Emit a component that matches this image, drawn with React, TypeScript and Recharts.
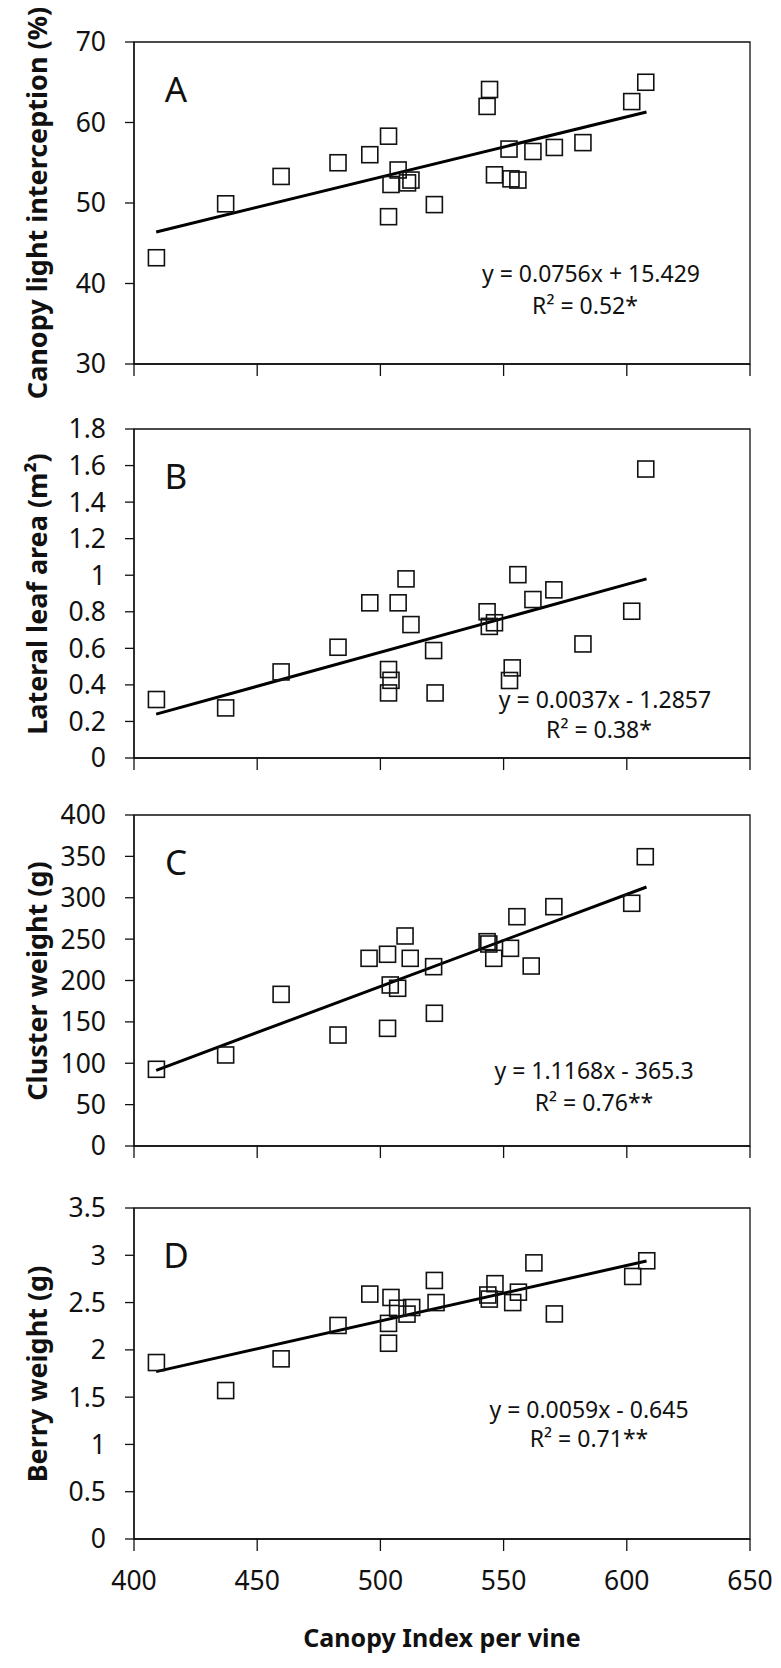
import React from "react";
import { ScatterChart, Scatter, XAxis, YAxis, ReferenceArea } from "recharts";

// shared x axis: canopy index per vine
const canopyTicks = [400, 450, 500, 550, 600, 650];
const trendCanopy = [409, 608];

// A - canopy light interception (%)
const canopyA = [409.1, 437.2, 459.7, 482.8, 495.7, 503.3, 503.3, 504.3, 507.2, 511.0, 512.4, 521.9, 543.3, 544.3, 546.3, 552.2, 553.0, 555.8, 561.9, 570.6, 582.2, 602.0, 607.7];
const lightA = [43.2, 49.9, 53.3, 55.0, 56.0, 58.3, 48.3, 52.3, 54.1, 52.5, 52.85, 49.8, 62.0, 64.1, 53.5, 56.7, 53.0, 52.85, 56.4, 56.9, 57.5, 62.6, 65.0];
const trendA = [46.4, 61.3];
const ticksA = [30, 40, 50, 60, 70];

// B - lateral leaf area (m2)
const canopyB = [409.1, 437.2, 459.7, 482.8, 495.7, 503.3, 504.3, 503.3, 507.2, 510.4, 512.4, 521.6, 522.2, 543.3, 544.2, 546.3, 552.4, 553.5, 555.8, 561.9, 570.4, 582.2, 602.0, 607.7];
const leafB = [0.32, 0.274, 0.471, 0.606, 0.849, 0.484, 0.425, 0.356, 0.849, 0.98, 0.73, 0.588, 0.356, 0.8, 0.72, 0.74, 0.424, 0.493, 1.003, 0.867, 0.92, 0.624, 0.803, 1.581];
const trendB = [0.24, 0.98];
const ticksB = [0, 0.2, 0.4, 0.6, 0.8, 1, 1.2, 1.4, 1.6, 1.8];

// C - cluster weight (g)
const canopyC = [409.1, 437.2, 459.7, 482.8, 495.4, 502.9, 510.0, 512.1, 521.6, 504.0, 507.0, 521.9, 502.9, 543.3, 544.0, 546.0, 552.8, 555.4, 561.2, 570.4, 602.0, 607.5];
const clusterC = [92.7, 110, 183.3, 134.1, 226.8, 231.7, 253.8, 226.8, 216.7, 194.6, 190.6, 160.4, 142.2, 246.9, 244.1, 226.8, 238.9, 277.1, 217.5, 289.2, 293.3, 349.6];
const trendC = [91.5, 313];
const ticksC = [0, 50, 100, 150, 200, 250, 300, 350, 400];

// D - berry weight (g)
const canopyD = [409.1, 437.2, 459.7, 482.8, 495.7, 504.3, 507.0, 512.7, 510.8, 503.3, 503.3, 521.9, 522.6, 543.6, 544.2, 546.5, 553.7, 556.0, 562.3, 570.6, 602.4, 608.1];
const berryD = [1.866, 1.57, 1.905, 2.258, 2.59, 2.554, 2.44, 2.448, 2.378, 2.28, 2.07, 2.734, 2.5, 2.58, 2.537, 2.7, 2.5, 2.61, 2.92, 2.38, 2.776, 2.942];
const trendD = [1.77, 2.94];
const ticksD = [0, 0.5, 1, 1.5, 2, 2.5, 3, 3.5];

const FONT = "'Noto Sans', sans-serif";
const INK = "#111";

const toPoints = (xs: number[], ys: number[]) => xs.map((x, i) => ({ x, y: ys[i] }));

function Square(props: any) {
  const { cx, cy } = props;
  if (cx == null || cy == null) return <g />;
  return (
    <rect x={cx - 8} y={cy - 8} width={16} height={16} fill="none" stroke={INK} strokeWidth={1.6} />
  );
}

type PanelProps = {
  plotTop: number;
  plotBottom: number;
  yTicks: number[];
  xs: number[];
  ys: number[];
  trend: number[];
  letter: string;
  yTitle: string;
  eq: string;
  r2: string;
  eqPos: [number, number];
  r2Pos: [number, number];
  showXLabels?: boolean;
};

const textBox = (x: number, y: number, font: string): React.CSSProperties => ({
  position: "absolute",
  left: x,
  top: y,
  transform: "translate(-50%, -50%)",
  whiteSpace: "nowrap",
  font,
  lineHeight: 1,
  color: INK,
});

function Panel(p: PanelProps) {
  const padTop = 20;
  const axisH = p.showXLabels ? 60 : 30;
  const plotH = p.plotBottom - p.plotTop;
  const yDomain: [number, number] = [p.yTicks[0], p.yTicks[p.yTicks.length - 1]];
  const tickStyle = { fill: INK, fontSize: 26.5, fontFamily: FONT };

  return (
    <>
      <div style={{ position: "absolute", left: 0, top: p.plotTop - padTop }}>
        <ScatterChart
          width={781}
          height={padTop + plotH + axisH}
          margin={{ top: padTop, right: 31, bottom: 0, left: 0 }}
        >
          <XAxis
            type="number"
            dataKey="x"
            domain={[400, 650]}
            ticks={canopyTicks}
            interval={0}
            height={axisH}
            tickSize={12}
            tickMargin={20}
            tick={tickStyle}
            tickFormatter={(v) => (p.showXLabels ? String(v) : "")}
            axisLine={{ stroke: INK, strokeWidth: 1.3 }}
            tickLine={{ stroke: INK, strokeWidth: 1.3 }}
          />
          <YAxis
            type="number"
            dataKey="y"
            domain={yDomain}
            ticks={p.yTicks}
            interval={0}
            width={134}
            tickSize={9}
            tickMargin={19}
            tick={tickStyle}
            axisLine={{ stroke: INK, strokeWidth: 1.3 }}
            tickLine={{ stroke: INK, strokeWidth: 1.3 }}
          />
          <ReferenceArea
            x1={400}
            x2={650}
            y1={yDomain[0]}
            y2={yDomain[1]}
            fill="none"
            stroke={INK}
            strokeWidth={1.3}
          />
          <Scatter
            data={toPoints(trendCanopy, p.trend)}
            line={{ stroke: "#000", strokeWidth: 3 }}
            shape={() => <g />}
            isAnimationActive={false}
          />
          <Scatter data={toPoints(p.xs, p.ys)} shape={<Square />} isAnimationActive={false} />
        </ScatterChart>
      </div>
      <div
        style={{
          ...textBox(36, (p.plotTop + p.plotBottom) / 2, `bold 27px ${FONT}`),
          transform: "translate(-50%, -50%) rotate(-90deg)",
        }}
      >
        {p.yTitle}
      </div>
      <div style={textBox(176, p.plotTop + 46, `35px ${FONT}`)}>{p.letter}</div>
      <div style={textBox(p.eqPos[0], p.eqPos[1], `23px ${FONT}`)}>{p.eq}</div>
      <div style={textBox(p.r2Pos[0], p.r2Pos[1], `23px ${FONT}`)}>{p.r2}</div>
    </>
  );
}

export default function App() {
  return (
    <div
      style={{
        position: "absolute",
        left: 0,
        top: 0,
        width: 781,
        height: 1668,
        background: "#fff",
        fontFamily: FONT,
      }}
    >
      <Panel
        plotTop={42}
        plotBottom={364}
        yTicks={ticksA}
        xs={canopyA}
        ys={lightA}
        trend={trendA}
        letter="A"
        yTitle="Canopy light interception (%)"
        eq="y = 0.0756x + 15.429"
        r2="R² = 0.52*"
        eqPos={[591, 273]}
        r2Pos={[585, 305]}
      />
      <Panel
        plotTop={429}
        plotBottom={758}
        yTicks={ticksB}
        xs={canopyB}
        ys={leafB}
        trend={trendB}
        letter="B"
        yTitle="Lateral leaf area (m²)"
        eq="y = 0.0037x - 1.2857"
        r2="R² = 0.38*"
        eqPos={[605, 699]}
        r2Pos={[599, 729]}
      />
      <Panel
        plotTop={815}
        plotBottom={1146}
        yTicks={ticksC}
        xs={canopyC}
        ys={clusterC}
        trend={trendC}
        letter="C"
        yTitle="Cluster weight (g)"
        eq="y = 1.1168x - 365.3"
        r2="R² = 0.76**"
        eqPos={[594, 1070]}
        r2Pos={[594, 1102]}
      />
      <Panel
        plotTop={1208}
        plotBottom={1539}
        yTicks={ticksD}
        xs={canopyD}
        ys={berryD}
        trend={trendD}
        letter="D"
        yTitle="Berry weight (g)"
        eq="y = 0.0059x - 0.645"
        r2="R² = 0.71**"
        eqPos={[589, 1409]}
        r2Pos={[589, 1438]}
        showXLabels
      />
      <div style={textBox(442, 1637, `bold 25px ${FONT}`)}>Canopy Index per vine</div>
    </div>
  );
}
